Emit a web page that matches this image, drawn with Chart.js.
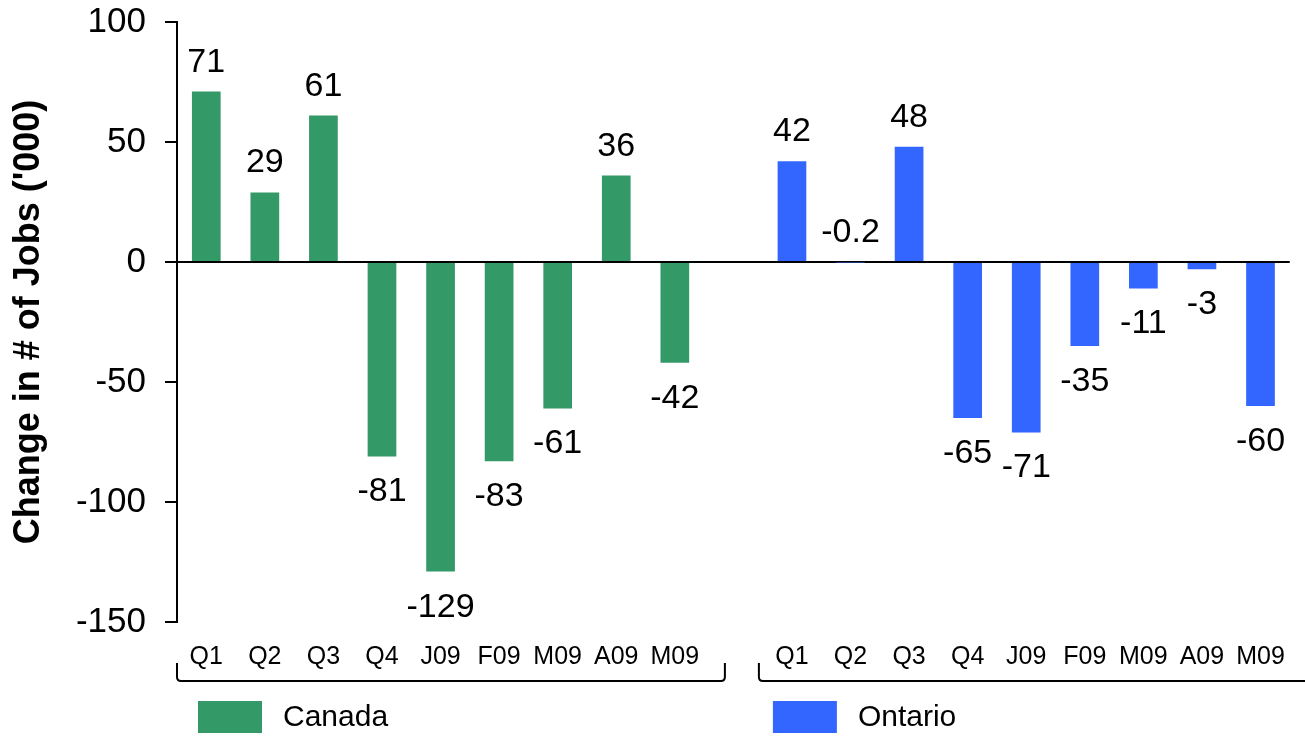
<!DOCTYPE html>
<html>
<head>
<meta charset="utf-8">
<script src="https://cdn.jsdelivr.net/npm/chart.js@4/dist/chart.umd.min.js"></script>
<style>
  html, body { margin: 0; padding: 0; background: #ffffff; }
  #wrap { width: 1305px; height: 741px; position: relative; }
</style>
</head>
<body>
<div id="wrap"><canvas id="jobs"></canvas></div>
<script>
// Monthly/quarterly change in employment, thousands of jobs
const canadaPeriods  = ['Q1', 'Q2', 'Q3', 'Q4', 'J09', 'F09', 'M09', 'A09', 'M09'];
const ontarioPeriods = ['Q1', 'Q2', 'Q3', 'Q4', 'J09', 'F09', 'M09', 'A09', 'M09'];
const canadaValues   = [71, 29, 61, -81, -129, -83, -61, 36, -42];
const ontarioValues  = [42, -0.2, 48, -65, -71, -35, -11, -3, -60];
const yTickValues    = [-150, -100, -50, 0, 50, 100];
const seriesNames    = ['Canada', 'Ontario'];
const seriesColors   = ['#339966', '#3366FF'];
const yAxisTitle     = "Change in # of Jobs ('000)";

// One shared category axis: Canada block, an empty spacer slot, Ontario block
const categories = [...canadaPeriods, '', ...ontarioPeriods];
const canadaSeries  = [...canadaValues, ...new Array(ontarioPeriods.length + 1).fill(null)];
const ontarioSeries = [...new Array(canadaPeriods.length + 1).fill(null), ...ontarioValues];

const FONT = "'Liberation Sans', Arial, Helvetica, sans-serif";

// Value labels above positive bars, below negative ones
const valueLabels = {
  id: 'valueLabels',
  afterDatasetsDraw(chart) {
    const ctx = chart.ctx;
    ctx.save();
    ctx.font = '34px ' + FONT;
    ctx.fillStyle = '#000';
    ctx.textAlign = 'center';
    ctx.textBaseline = 'alphabetic';
    chart.data.datasets.forEach((ds, di) => {
      const meta = chart.getDatasetMeta(di);
      meta.data.forEach((bar, i) => {
        const v = ds.data[i];
        if (v === null || v === undefined) return;
        const top = Math.min(bar.y, bar.base);
        const bottom = Math.max(bar.y, bar.base);
        const y = (v >= 0 || Math.abs(v) < 1) ? top - 20 : bottom + 45;
        ctx.fillText(String(v), bar.x, y);
      });
    });
    ctx.restore();
  }
};

// Group brackets under the category labels, plus a legend entry per group
const groupBrackets = {
  id: 'groupBrackets',
  afterDraw(chart) {
    const ctx = chart.ctx;
    const x = chart.scales.x;
    const base = chart.chartArea.bottom;
    const gap = x.getPixelForValue(canadaPeriods.length);
    const topY = base + 41, lineY = base + 59, r = 4;
    const groups = [
      { left: x.left, right: gap - 8.5, closeRight: true, legendOffset: 21 },
      { left: gap + 25.5, right: chart.width + 10, closeRight: false, legendOffset: 14 }
    ];
    ctx.save();
    ctx.strokeStyle = '#000';
    ctx.lineWidth = 2;
    groups.forEach((g, gi) => {
      ctx.beginPath();
      ctx.moveTo(g.left, topY);
      ctx.lineTo(g.left, lineY - r);
      ctx.quadraticCurveTo(g.left, lineY, g.left + r, lineY);
      if (g.closeRight) {
        ctx.lineTo(g.right - r, lineY);
        ctx.quadraticCurveTo(g.right, lineY, g.right, lineY - r);
        ctx.lineTo(g.right, topY);
      } else {
        ctx.lineTo(g.right, lineY);
      }
      ctx.stroke();

      // legend swatch and name
      const bx = g.left + g.legendOffset, by = base + 79;
      ctx.fillStyle = seriesColors[gi];
      ctx.fillRect(bx, by, 64, 32);
      ctx.fillStyle = '#000';
      ctx.font = '30px ' + FONT;
      ctx.textAlign = 'left';
      ctx.textBaseline = 'middle';
      ctx.fillText(chart.data.datasets[gi].label, bx + 64 + 21, by + 17);
    });
    ctx.restore();
  }
};

new Chart(document.getElementById('jobs'), {
  type: 'bar',
  data: {
    labels: categories,
    datasets: [
      { label: seriesNames[0], data: canadaSeries,  backgroundColor: seriesColors[0] },
      { label: seriesNames[1], data: ontarioSeries, backgroundColor: seriesColors[1] }
    ]
  },
  options: {
    responsive: true,
    maintainAspectRatio: false,
    animation: false,
    layout: { padding: { top: 22, right: 7, bottom: 0, left: 0 } },
    datasets: { bar: { grouped: false, categoryPercentage: 1, barPercentage: 0.49 } },
    plugins: {
      legend: { display: false },
      tooltip: { enabled: false }
    },
    scales: {
      x: {
        grid: { display: false, drawTicks: false },
        border: { display: false },
        ticks: { color: '#000', font: { family: FONT, size: 25 }, padding: 20, maxRotation: 0, autoSkip: false },
        afterFit(scale) { scale.height = 119; }
      },
      y: {
        min: -150,
        max: 100,
        afterBuildTicks(scale) { scale.ticks = yTickValues.map(v => ({ value: v })); },
        afterFit(scale) {
          scale.width = 177;
          // the end labels may overhang the plot area; the layout padding covers them
          scale.paddingTop = 0;
          scale.paddingBottom = 0;
        },
        grid: {
          color: c => (c.tick && c.tick.value === 0) ? '#000' : 'rgba(0,0,0,0)',
          lineWidth: 2,
          tickColor: '#000',
          tickLength: 12,
          tickWidth: 2
        },
        border: { display: true, color: '#000', width: 2 },
        ticks: { color: '#000', font: { family: FONT, size: 35 }, padding: 19 },
        title: {
          display: true,
          text: yAxisTitle,
          color: '#000',
          font: { family: FONT, size: 36, weight: 'bold' },
          padding: { top: 7, bottom: 0 }
        }
      }
    }
  },
  plugins: [valueLabels, groupBrackets]
});
</script>
</body>
</html>
